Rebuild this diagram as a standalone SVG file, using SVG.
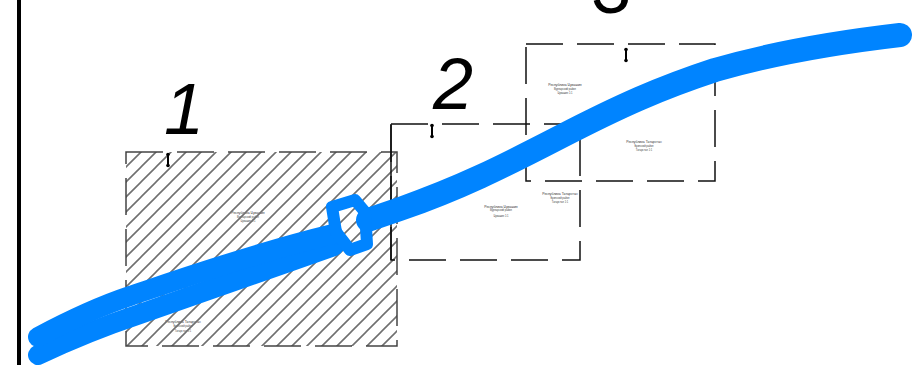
<svg xmlns="http://www.w3.org/2000/svg" width="916" height="365" viewBox="0 0 916 365">
<defs>
<pattern id="hatch" width="15" height="15" patternUnits="userSpaceOnUse" x="126" y="152">
<path d="M-3,3 L3,-3 M0,15 L15,0 M12,18 L18,12" stroke="#707070" stroke-width="1.6" fill="none"/>
</pattern>
<g id="pin">
<line x1="0" y1="2" x2="0" y2="12" stroke="#000" stroke-width="2"/>
<circle cx="0" cy="1.5" r="1.8" fill="#000"/>
<circle cx="0" cy="12.5" r="1.8" fill="#000"/>
</g>
</defs>
<style>
.frame{fill:none;stroke:#111;stroke-width:1.5;stroke-dasharray:37 14}
.solid{fill:none;stroke:#111;stroke-width:1.5}
.num{font-family:"Liberation Sans",Arial,sans-serif;font-style:italic;font-size:72px;fill:#000;text-anchor:middle}
.l1{font-family:"Liberation Sans",Arial,sans-serif;font-size:3.4px;fill:#333;text-anchor:middle}
.l2{font-family:"Liberation Sans",Arial,sans-serif;font-size:2.6px;fill:#444;text-anchor:middle}
.blue{fill:none;stroke:#0084ff;stroke-linecap:round;stroke-linejoin:round}
</style>
<rect width="916" height="365" fill="#fff"/>
<line x1="19" y1="0" x2="19" y2="365" stroke="#000" stroke-width="4"/>

<g id="frame1">
<text class="l1" x="248" y="214">Республика Чувашия</text>
<text class="l2" x="248" y="218">Вурнарский район</text>
<text class="l2" x="248" y="222">Чувашия 1:1</text>
<text class="l1" x="183" y="323">Республика Татарстан</text>
<text class="l2" x="183" y="327">Буинский район</text>
<text class="l2" x="183" y="332">Татарстан 1:1</text>
<rect x="126" y="152" width="271" height="194" fill="url(#hatch)"/>
<rect class="frame" x="126" y="152" width="271" height="194" style="stroke:#444"/>
<use href="#pin" x="168" y="153"/>
<text class="num" x="184" y="134">1</text>
</g>

<g id="frame2">
<text class="l1" x="501" y="208">Республика Чувашия</text>
<text class="l2" x="501" y="211">Вурнарский район</text>
<text class="l2" x="501" y="217">Чувашия 1:1</text>
<text class="l1" x="560" y="195">Республика Татарстан</text>
<text class="l2" x="560" y="199">Буинский район</text>
<text class="l2" x="560" y="203">Татарстан 1:1</text>
<rect class="frame" x="391" y="124" width="189" height="136"/>
<line class="solid" x1="391" y1="124" x2="391" y2="260"/>
<use href="#pin" x="432" y="124"/>
<text class="num" x="453" y="109">2</text>
</g>

<g id="frame3">
<text class="l1" x="565" y="86">Республика Чувашия</text>
<text class="l2" x="565" y="90">Вурнарский район</text>
<text class="l2" x="565" y="94">Чувашия 1:1</text>
<text class="l1" x="644" y="143">Республика Татарстан</text>
<text class="l2" x="644" y="147">Буинский район</text>
<text class="l2" x="644" y="151">Татарстан 1:1</text>
<rect class="frame" x="526" y="44" width="189" height="137"/>
<use href="#pin" x="626" y="48"/>
<text class="num" x="612" y="13">3</text>
</g>

<g id="route">
<path class="blue" stroke-width="20" d="M38,355 C80,335 110,324 140,314 S260,272 334,246"/>
<path class="blue" stroke-width="20" d="M38,337 C70,320 100,306 130,296 S250,254 333,234"/>
<path class="blue" stroke-width="24" d="M368,220 L400,209 C460,188 500,168 560,137 C620,106 660,88 715,70 C770,54 840,42 900,35"/>
<polygon class="blue" stroke-width="12" points="332,207 355,200 365,212 367,244 350,250 336,232"/>
</g>
</svg>
